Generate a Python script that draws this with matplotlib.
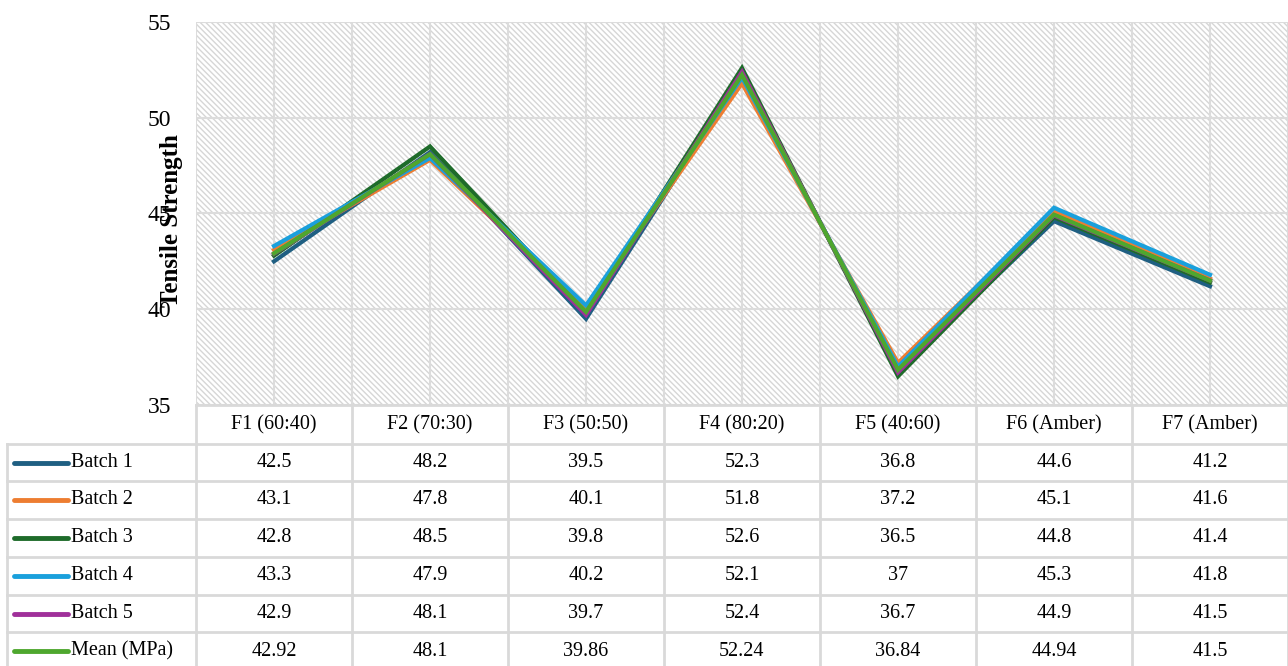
import numpy as np
import matplotlib
matplotlib.use('Agg')
import matplotlib.pyplot as plt
from matplotlib.patches import Rectangle

# 配方与各批次拉伸强度 (MPa)
formulations = ['F1 (60:40)', 'F2 (70:30)', 'F3 (50:50)', 'F4 (80:20)',
                'F5 (40:60)', 'F6 (Amber)', 'F7 (Amber)']
series_names = ['Batch 1', 'Batch 2', 'Batch 3', 'Batch 4', 'Batch 5', 'Mean (MPa)']
batch1 = [42.5, 48.2, 39.5, 52.3, 36.8, 44.6, 41.2]
batch2 = [43.1, 47.8, 40.1, 51.8, 37.2, 45.1, 41.6]
batch3 = [42.8, 48.5, 39.8, 52.6, 36.5, 44.8, 41.4]
batch4 = [43.3, 47.9, 40.2, 52.1, 37, 45.3, 41.8]
batch5 = [42.9, 48.1, 39.7, 52.4, 36.7, 44.9, 41.5]
mean_mpa = [42.92, 48.1, 39.86, 52.24, 36.84, 44.94, 41.5]
all_series = [batch1, batch2, batch3, batch4, batch5, mean_mpa]
colors = ['#1f5f82', '#ed7d31', '#1e6b2a', '#1aa0dc', '#a0309a', '#4ea72e']
yticks = [35, 40, 45, 50, 55]

plt.rcParams['font.family'] = ['Liberation Serif', 'DejaVu Serif']
plt.rcParams['hatch.linewidth'] = 1.0
plt.rcParams['hatch.color'] = '#d6d6d6'

W, H = 1288, 666
fig = plt.figure(figsize=(W / 100, H / 100), dpi=100)

# 绘图区（像素坐标）
x0, x1, y_top, y_bot = 196, 1288, 22, 405
ax = fig.add_axes([x0 / W, 1 - y_bot / H, (x1 - x0) / W, (y_bot - y_top) / H])
n = len(formulations)
ax.set_xlim(0, n)
ax.set_ylim(35, 55)
ax.add_patch(Rectangle((0, 0), 1, 1, transform=ax.transAxes, facecolor='white',
                       hatch='\\\\\\\\\\\\', edgecolor='#d6d6d6', linewidth=0, zorder=0))
for y in yticks:
    ax.axhline(y, color='#dcdcdc', lw=1.5, zorder=1)
for xv in np.arange(0, n + 0.5, 0.5):
    ax.axvline(xv, color='#dcdcdc', lw=1.5, zorder=1)

xs = np.arange(n) + 0.5
for vals, c in zip(all_series, colors):
    ax.plot(xs, vals, color=c, lw=3, solid_joinstyle='miter', zorder=3)

ax.set_xticks([])
ax.set_yticks(yticks)
ax.set_yticklabels([str(v) for v in yticks], fontsize=17)
ax.tick_params(axis='y', length=0, pad=18)
for s in ax.spines.values():
    s.set_visible(False)
# 纵轴标题与刻度数字重叠
ax.set_ylabel('Tensile Strength', fontsize=18, fontweight='bold')
ax.yaxis.set_label_coords((183 - x0) / (x1 - x0), (y_bot - 221) / (y_bot - y_top))

# 数据表（整幅图像素坐标）
tab = fig.add_axes([0, 0, 1, 1])
tab.set_xlim(0, W)
tab.set_ylim(H, 0)
tab.axis('off')
grid_c = '#d9d9d9'
col_w = (x1 - x0) / n
row_y = [405, 444, 481, 519, 557, 595, 632, 670]
fs = 14.5

# 表头
tab.plot([x0, x1], [row_y[0], row_y[0]], color=grid_c, lw=2)
for i, name in enumerate(formulations):
    tab.text(x0 + col_w * (i + 0.5), (row_y[0] + row_y[1]) / 2, name,
             ha='center', va='center', fontsize=fs)
for r in range(1, len(row_y) - 1):
    tab.plot([7, x1], [row_y[r], row_y[r]], color=grid_c, lw=2)
for i in range(n + 1):
    tab.plot([x0 + col_w * i] * 2, [row_y[0], H], color=grid_c, lw=2)
tab.plot([7, 7], [row_y[1], H], color=grid_c, lw=2)

for r, (name, vals, c) in enumerate(zip(series_names, all_series, colors)):
    yc = (row_y[r + 1] + row_y[r + 2]) / 2
    tab.plot([14, 68], [yc, yc], color=c, lw=3.5, solid_capstyle='round')
    tab.text(71, yc, name, ha='left', va='center', fontsize=fs)
    for i, v in enumerate(vals):
        tab.text(x0 + col_w * (i + 0.5), yc, f'{v:g}', ha='center', va='center', fontsize=fs)

fig.savefig('out.png', dpi=100)
